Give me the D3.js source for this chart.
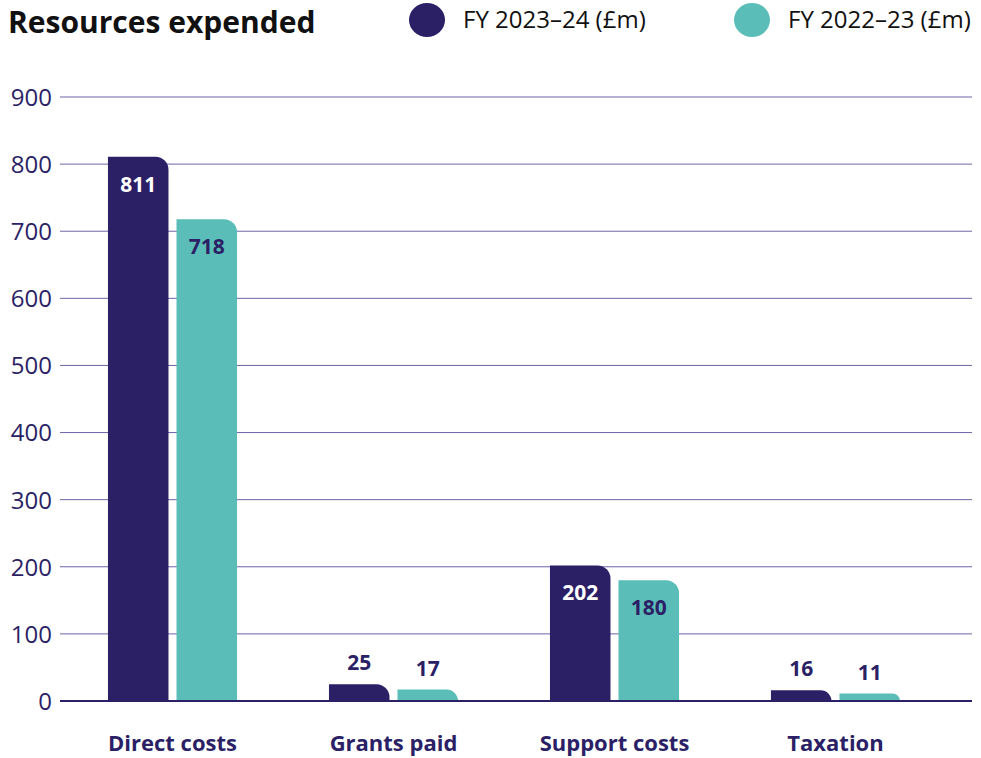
<!DOCTYPE html>
<html>
<head>
<meta charset="utf-8">
<script src="https://cdn.jsdelivr.net/npm/d3@7"></script>
<style>
  body { margin: 0; background: #fff; }
  text { font-family: "Open Sans", sans-serif; }
</style>
</head>
<body>
<svg id="chart"></svg>
<script>
    // data
    var categories = ["Direct costs", "Grants paid", "Support costs", "Taxation"]
    var seriesNames = ["FY 2023–24 (£m)", "FY 2022–23 (£m)"]
    var fy2324 = [811, 25, 202, 16]
    var fy2223 = [718, 17, 180, 11]
    var yTicks = [0, 100, 200, 300, 400, 500, 600, 700, 800, 900]

    var width = 981;
    var height = 758;
    var dark = "#2b1f66";
    var teal = "#5bbdb7";
    var colors = [dark, teal];

    var svg = d3.select("#chart").attr("width", width).attr("height", height)

    var yScale = d3.scaleLinear().domain([0, 900]).range([701, 97])

    var xScale = d3.scaleBand()
          .domain(categories)
          .range([62, 946])
          .paddingInner(0.416)
          .paddingOuter(0.208)

    var xInner = d3.scaleBand()
          .domain([0, 1])
          .range([0, xScale.bandwidth()])
          .paddingInner(0.117)

    // gridlines + tick labels
    var yAxis = d3.axisLeft(yScale).tickValues(yTicks).tickSize(0).tickPadding(0)
    var gy = svg.append("g").attr("transform", "translate(52,0)").call(yAxis)
    gy.select(".domain").remove()
    gy.selectAll("text")
      .attr("fill", dark)
      .style("font-size", "24px")
      .attr("dy", "0.35em")

    svg.append("g").selectAll("line").data(yTicks.filter(t => t > 0))
      .enter().append("line")
      .attr("x1", 60).attr("x2", 972)
      .attr("y1", d => yScale(d)).attr("y2", d => yScale(d))
      .attr("stroke", "#6e64a8").attr("stroke-width", 1)

    // rounded top-right corner bar
    function barPath(x, w, v) {
      var y0 = yScale(0), y1 = yScale(v)
      var r = Math.min(13, y0 - y1, w / 2)
      return "M" + x + "," + y0 +
        "V" + y1 +
        "H" + (x + w - r) +
        "A" + r + "," + r + " 0 0 1 " + (x + w) + "," + (y1 + r) +
        "V" + y0 + "Z"
    }

    var rows = []
    categories.forEach((c, i) => {
      rows.push({cat: c, s: 0, v: fy2324[i]})
      rows.push({cat: c, s: 1, v: fy2223[i]})
    })

    var groups = svg.append("g")
    groups.selectAll("path").data(rows).enter().append("path")
      .attr("d", d => barPath(xScale(d.cat) + xInner(d.s), xInner.bandwidth(), d.v))
      .attr("fill", d => colors[d.s])

    // value labels
    groups.selectAll(".val").data(rows).enter().append("text")
      .attr("class", "val")
      .attr("x", d => xScale(d.cat) + xInner(d.s) + xInner.bandwidth() / 2)
      .attr("y", d => {
        var h = yScale(0) - yScale(d.v)
        return h > 40 ? yScale(d.v) + 35 : yScale(d.v) - 14
      })
      .attr("text-anchor", "middle")
      .style("font-size", "21px")
      .style("font-weight", "bold")
      .attr("fill", d => {
        var h = yScale(0) - yScale(d.v)
        return (h > 40 && d.s === 0) ? "#fff" : dark
      })
      .text(d => d.v)

    // baseline
    svg.append("line")
      .attr("x1", 60).attr("x2", 972)
      .attr("y1", yScale(0)).attr("y2", yScale(0))
      .attr("stroke", dark).attr("stroke-width", 2)

    // category labels
    svg.append("g").selectAll("text").data(categories).enter().append("text")
      .attr("x", d => xScale(d) + xScale.bandwidth() / 2)
      .attr("y", 751)
      .attr("text-anchor", "middle")
      .style("font-size", "22px")
      .style("font-weight", "bold")
      .attr("fill", dark)
      .text(d => d)

    // title
    svg.append("text")
      .attr("x", 8).attr("y", 33)
      .style("font-size", "30px")
      .style("font-weight", "bold")
      .attr("fill", "#111")
      .text("Resources expended")

    // legend
    var legendX = [427, 752]
    var legend = svg.append("g").selectAll("g").data(seriesNames).enter().append("g")
      .attr("transform", (d, i) => `translate(${legendX[i]},20)`)
    legend.append("ellipse").attr("rx", 18).attr("ry", 17).attr("fill", (d, i) => colors[i])
    legend.append("text")
      .attr("x", 36).attr("y", 0).attr("dy", "0.35em")
      .style("font-size", "24px")
      .attr("fill", "#111")
      .text(d => d)
</script>
</body>
</html>
